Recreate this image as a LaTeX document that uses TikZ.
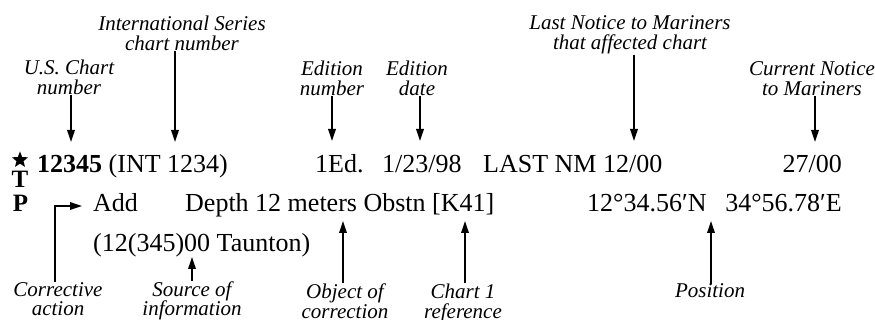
\documentclass[tikz,border=0pt]{standalone}
\usepackage{fontspec}
\setmainfont{Liberation Serif}
\usetikzlibrary{arrows.meta,shapes.geometric}
\tikzset{
  main/.style={font=\fontsize{26}{30}\selectfont, inner sep=0pt, anchor=base west},
  lbl/.style={font=\itshape\fontsize{21}{20}\selectfont, inner sep=0pt, align=center, anchor=base},
  code/.style={font=\bfseries\fontsize{25}{25}\selectfont, inner sep=0pt, anchor=base},
  arr/.style={line width=1.8pt, -{Triangle[length=12pt,width=7.5pt]}},
}
\begin{document}
\begin{tikzpicture}[x=1pt,y=-1pt]
\fill[white] (0,0) rectangle (875,320);
\useasboundingbox (0,0) rectangle (875,320);
% symbols
\node[star, star points=5, star point ratio=2.3, fill=black, minimum size=17pt, inner sep=0pt] (star) at (20,160) {};
\node[code] (T) at (20,188) {T};
\node[code] (P) at (20.5,212) {P};
% line 1
\node[main] (l1a) at (37,173) {\textbf{12345} (INT 1234)};
\node[main] (l1b) at (315,173) {1Ed.};
\node[main] (l1c) at (382,173) {1/23/98};
\node[main] (l1d) at (483,173) {LAST NM 12/00};
\node[main, anchor=base east] (l1e) at (842,173) {27/00};
% line 2
\node[main] (l2a) at (93,212) {Add};
\node[main] (l2b) at (185,212) {Depth 12 meters Obstn [K41]};
\node[main] (l2c) at (587,212) {12°34.56′N};
\node[main, anchor=base east] (l2d) at (842,212) {34°56.78′E};
% line 3
\node[main] (l3a) at (93,252) {(12(345)00 Taunton)};
% top labels
\node[lbl] (us) at (69,95) {U.S. Chart\\number};
\node[lbl] (int) at (182,51) {International Series\\chart number};
\node[lbl] (ednum) at (332,96) {Edition\\number};
\node[lbl] (eddate) at (417,96) {Edition\\date};
\node[lbl] (lastnm) at (630,50) {Last Notice to Mariners\\that affected chart};
\node[lbl] (cur) at (812,96) {Current Notice\\to Mariners};
% bottom labels
\node[lbl] (corr) at (58,316) {Corrective\\action};
\node[lbl] (src) at (192,316) {Source of\\information};
\node[lbl] (obj) at (345,318) {Object of\\correction};
\node[lbl] (ch1) at (463,318) {Chart 1\\reference};
\node[lbl] (pos) at (710,298) {Position};
% arrow tips
\coordinate (usTip) at (71,142);
\coordinate (intTip) at (175,142);
\coordinate (ednumTip) at (332,141);
\coordinate (eddateTip) at (420,141);
\coordinate (lastTip) at (634,141);
\coordinate (curTip) at (815,142);
\coordinate (corrBend) at (55,206);
\coordinate (corrTip) at (82,206);
\coordinate (srcTip) at (192,257);
\coordinate (objTip) at (343,221);
\coordinate (chTip) at (465,221);
\coordinate (posTip) at (711,221);
% arrows
\draw[arr] (us.south -| usTip) -- (usTip);
\draw[arr] (int.south -| intTip) -- (intTip);
\draw[arr] (ednum.south -| ednumTip) -- (ednumTip);
\draw[arr] (eddate.south -| eddateTip) -- (eddateTip);
\draw[arr] (lastnm.south -| lastTip) -- (lastTip);
\draw[arr] (cur.south -| curTip) -- (curTip);
\draw[arr] (corr.north -| corrBend) -- (corrBend) -- (corrTip);
\draw[arr] (src.north -| srcTip) -- (srcTip);
\draw[arr] (obj.north -| objTip) -- (objTip);
\draw[arr] (ch1.north -| chTip) -- (chTip);
\draw[arr] (pos.north -| posTip) -- (posTip);
\end{tikzpicture}
\end{document}
